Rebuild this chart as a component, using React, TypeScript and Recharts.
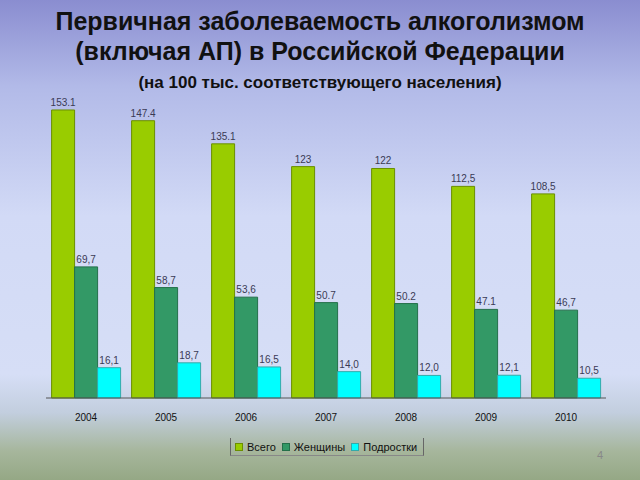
import React from "react";
import { Bar, BarChart, LabelList, XAxis, YAxis } from "recharts";

const years = ["2004", "2005", "2006", "2007", "2008", "2009", "2010"];
const totalValues = [153.1, 147.4, 135.1, 123, 122, 112.5, 108.5];
const womenValues = [69.7, 58.7, 53.6, 50.7, 50.2, 47.1, 46.7];
const teenValues = [16.1, 18.7, 16.5, 14.0, 12.0, 12.1, 10.5];

const totalLabels = ["153.1", "147.4", "135.1", "123", "122", "112,5", "108,5"];
const womenLabels = ["69,7", "58,7", "53,6", "50.7", "50.2", "47.1", "46,7"];
const teenLabels = ["16,1", "18,7", "16,5", "14,0", "12,0", "12,1", "10,5"];

const seriesNames = ["Всего", "Женщины", "Подростки"];
const seriesColors = ["#99cc00", "#339966", "#00ffff"];
const seriesStrokes = ["#6b8f00", "#24704a", "#33aaaa"];

const data = years.map((year, i) => ({
  year,
  total: totalValues[i],
  women: womenValues[i],
  teens: teenValues[i],
  totalLabel: totalLabels[i],
  womenLabel: womenLabels[i],
  teenLabel: teenLabels[i]
}));

const labelStyle = { fontSize: 10, fill: "#3a3a55" };

export default function App() {
  return (
    <div
      style={{
        position: "absolute",
        left: 0,
        top: 0,
        width: 640,
        height: 480,
        overflow: "hidden",
        fontFamily: "'Liberation Sans', Arial, sans-serif",
        background:
          "linear-gradient(to bottom, #8a8dd0 0%, #b2bae8 18%, #d2daf6 45%, #d6def6 78%, #c2cede 86%, #a6b69c 94%, #95a885 100%)"
      }}
    >
      <div style={{ position: "absolute", top: 6, left: 0, width: 640, textAlign: "center", fontWeight: "bold", fontSize: 25, lineHeight: "30px", color: "#111" }}>
        Первичная заболеваемость алкоголизмом
        <br />
        (включая АП) в Российской Федерации
      </div>
      <div style={{ position: "absolute", top: 73, left: 0, width: 640, textAlign: "center", fontWeight: "bold", fontSize: 17, color: "#111" }}>
        (на 100 тыс. соответствующего населения)
      </div>
      <div style={{ position: "absolute", left: 0, top: 0 }}>
        <BarChart
          width={640}
          height={480}
          data={data}
          margin={{ top: 97, right: 34, bottom: 52, left: 46 }}
          barCategoryGap="7%"
          barGap={0}
        >
          <XAxis
            dataKey="year"
            height={30}
            tickLine={false}
            axisLine={{ stroke: "#555" }}
            tick={{ fontSize: 10, fill: "#111" }}
            tickMargin={10}
          />
          <YAxis hide domain={[0, 160]} />
          <Bar dataKey="total" name={seriesNames[0]} fill={seriesColors[0]} stroke={seriesStrokes[0]} strokeWidth={1} isAnimationActive={false}>
            <LabelList dataKey="totalLabel" position="top" offset={4} style={labelStyle} />
          </Bar>
          <Bar dataKey="women" name={seriesNames[1]} fill={seriesColors[1]} stroke={seriesStrokes[1]} strokeWidth={1} isAnimationActive={false}>
            <LabelList dataKey="womenLabel" position="top" offset={4} style={labelStyle} />
          </Bar>
          <Bar dataKey="teens" name={seriesNames[2]} fill={seriesColors[2]} stroke={seriesStrokes[2]} strokeWidth={1} isAnimationActive={false}>
            <LabelList dataKey="teenLabel" position="top" offset={4} style={labelStyle} />
          </Bar>
        </BarChart>
      </div>
      <div
        style={{
          position: "absolute",
          left: 230,
          top: 438,
          height: 17,
          padding: "0 6px 0 4px",
          borderLeft: "1px solid #666",
          borderRight: "1px solid #666",
          borderBottom: "1px solid #888",
          display: "flex",
          alignItems: "center",
          gap: 6,
          fontSize: 11,
          color: "#111"
        }}
      >
        {seriesNames.map((name, i) => (
          <span key={name} style={{ display: "flex", alignItems: "center", gap: 4 }}>
            <span style={{ width: 6, height: 6, background: seriesColors[i], border: `1px solid ${seriesStrokes[i]}` }} />
            {name}
          </span>
        ))}
      </div>
      <div style={{ position: "absolute", left: 597, top: 449, fontSize: 11, color: "#888" }}>4</div>
    </div>
  );
}
